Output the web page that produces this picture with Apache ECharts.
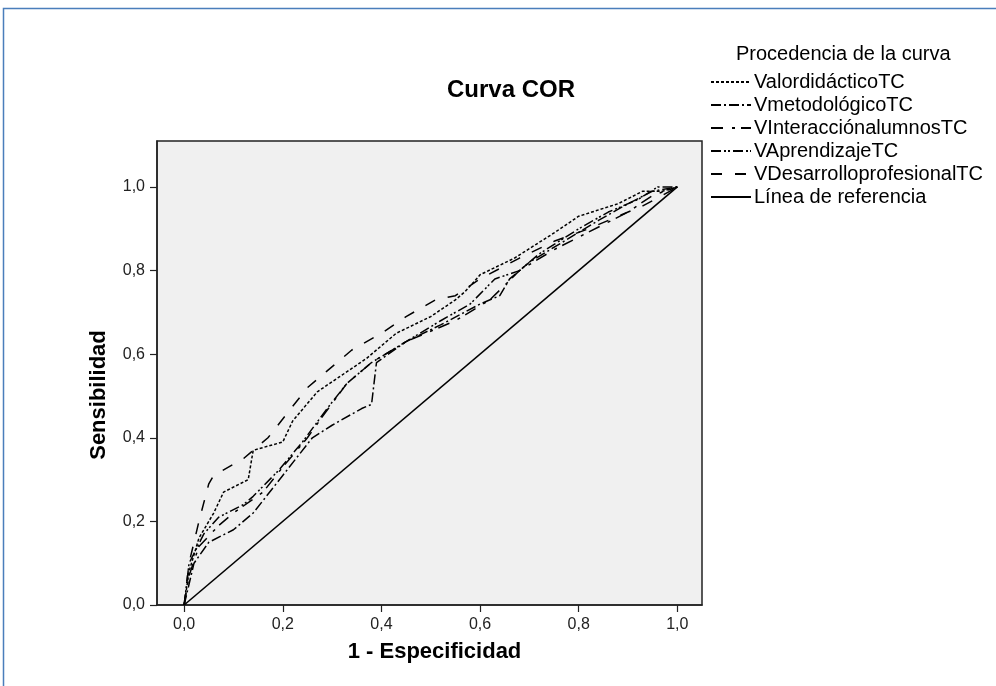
<!DOCTYPE html>
<html>
<head>
<meta charset="utf-8">
<title>Curva COR</title>
<script src="https://cdn.jsdelivr.net/npm/echarts@6/dist/echarts.min.js"></script>
<style>
    html, body { margin: 0; padding: 0; background: #fff; }
    #main { width: 996px; height: 686px; }
</style>
</head>
<body>
<div id="main"></div>
<script>
    // ticks shared by both axes
    var tickValues = [0, 0.2, 0.4, 0.6, 0.8, 1.0];

    // curve names (legend order)
    var curveNames = ['ValordidácticoTC', 'VmetodológicoTC', 'VInteracciónalumnosTC',
        'VAprendizajeTC', 'VDesarrolloprofesionalTC', 'Línea de referencia'];

    // [1 - especificidad, sensibilidad]
    var valorDidactico = [[0,0],[0.01,0.08],[0.03,0.16],[0.06,0.22],[0.08,0.27],[0.13,0.30],[0.14,0.37],
        [0.20,0.39],[0.22,0.44],[0.27,0.51],[0.32,0.55],[0.37,0.59],[0.43,0.65],[0.50,0.69],[0.55,0.73],
        [0.57,0.75],[0.60,0.79],[0.67,0.83],[0.75,0.89],[0.80,0.93],[0.88,0.96],[0.93,0.99],[0.97,0.99],[1,1]];
    var metodologico = [[0,0],[0.02,0.10],[0.05,0.15],[0.10,0.18],[0.14,0.22],[0.20,0.31],[0.26,0.40],
        [0.30,0.43],[0.36,0.47],[0.38,0.48],[0.39,0.58],[0.45,0.63],[0.52,0.67],[0.60,0.72],[0.64,0.74],
        [0.66,0.78],[0.70,0.82],[0.77,0.87],[0.84,0.92],[0.90,0.96],[0.95,0.99],[1,1]];
    var interaccion = [[0,0],[0.01,0.07],[0.03,0.14],[0.07,0.19],[0.10,0.22],[0.16,0.27],[0.20,0.33],
        [0.25,0.40],[0.28,0.45],[0.33,0.53],[0.38,0.58],[0.45,0.63],[0.55,0.68],[0.62,0.73],[0.68,0.80],
        [0.75,0.85],[0.80,0.88],[0.85,0.91],[0.90,0.94],[0.95,0.98],[1,1]];
    var aprendizaje = [[0,0],[0.01,0.10],[0.04,0.17],[0.07,0.21],[0.12,0.24],[0.14,0.26],[0.19,0.32],
        [0.24,0.39],[0.29,0.47],[0.33,0.53],[0.38,0.58],[0.45,0.63],[0.52,0.68],[0.58,0.72],[0.63,0.78],
        [0.68,0.80],[0.72,0.84],[0.80,0.90],[0.86,0.94],[0.92,0.97],[0.96,1.0],[1,1]];
    var desarrollo = [[0,0],[0.01,0.10],[0.03,0.20],[0.05,0.29],[0.06,0.31],[0.12,0.35],[0.17,0.40],
        [0.21,0.46],[0.25,0.52],[0.29,0.56],[0.34,0.61],[0.40,0.65],[0.45,0.69],[0.51,0.73],[0.55,0.74],
        [0.60,0.78],[0.68,0.83],[0.75,0.87],[0.82,0.90],[0.87,0.925],[0.93,0.955],[0.97,0.98],[1,1]];
    var referencia = [[0,0],[1,1]];

    var curveData = [valorDidactico, metodologico, interaccion, aprendizaje, desarrollo, referencia];
    // dash patterns, same order as curveNames
    var dashTypes = [[3,2], [10,3,2,3], [12,9,3,6], [10,3,2,2,2,3], [11,13], 'solid'];

    var font = "'Liberation Sans', Arial, sans-serif";
    var chart = echarts.init(document.getElementById('main'), null, {renderer: 'canvas'});

    var series = curveNames.map(function (name, i) {
        return {
            name: name,
            type: 'line',
            symbol: 'none',
            data: curveData[i],
            lineStyle: {color: '#000', width: i === 5 ? 1.6 : 1.5, type: dashTypes[i]},
            itemStyle: {color: '#000'},
            emphasis: {disabled: true},
            z: i === 5 ? 3 : 2
        };
    });

    var commaLabel = function (v) { return v.toFixed(1).replace('.', ','); };

    chart.setOption({
        animation: false,
        backgroundColor: '#fff',
        title: {
            text: 'Curva COR',
            left: 442, top: 73,
            textStyle: {fontFamily: font, fontSize: 24, fontWeight: 'bold', color: '#000'}
        },
        legend: {
            orient: 'vertical',
            left: 705, top: 67,
            itemWidth: 40, itemHeight: 14, itemGap: 3,
            itemStyle: {opacity: 0},
            textStyle: {fontFamily: font, fontSize: 20, color: '#000', padding: [0, 0, 0, -2]},
            data: curveNames
        },
        graphic: [
            // blue frame round the picture
            {type: 'rect', shape: {x: 3.5, y: 8.5, width: 1000, height: 700},
                style: {fill: null, stroke: '#4a7ebb', lineWidth: 1.5}, silent: true},
            {type: 'text', left: 736, top: 44,
                style: {text: 'Procedencia de la curva', font: '20px ' + font, fill: '#000'}}
        ],
        grid: {
            left: 157, right: 294, top: 141, bottom: 81,
            show: true, backgroundColor: '#f0f0f0', borderColor: '#222', borderWidth: 1.5
        },
        xAxis: {
            type: 'value', min: -0.055, max: 1.05,
            name: '1 - Especificidad', nameLocation: 'middle', nameGap: 36,
            nameTextStyle: {fontFamily: font, fontSize: 22, fontWeight: 'bold', color: '#000', padding: [0, 0, 0, 10]},
            axisLine: {onZero: false, lineStyle: {color: '#222', width: 1.5}},
            axisTick: {show: true, length: 7, customValues: tickValues, lineStyle: {color: '#222', width: 1.2}},
            axisLabel: {customValues: tickValues, formatter: commaLabel, margin: 12,
                fontFamily: font, fontSize: 16, color: '#222'},
            splitLine: {show: false}
        },
        yAxis: {
            type: 'value', min: 0, max: 1.11,
            name: 'Sensibilidad', nameLocation: 'middle', nameGap: 47,
            // SPSS puts the name a little below the middle of the frame
            nameTextStyle: {fontFamily: font, fontSize: 22, fontWeight: 'bold', color: '#000', padding: [0, 44, 0, 0]},
            axisLine: {onZero: false, lineStyle: {color: '#222', width: 1.5}},
            axisTick: {show: true, length: 7, customValues: tickValues, lineStyle: {color: '#222', width: 1.2}},
            axisLabel: {customValues: tickValues, formatter: commaLabel, margin: 12,
                fontFamily: font, fontSize: 16, color: '#222'},
            splitLine: {show: false}
        },
        series: series
    });
</script>
</body>
</html>
